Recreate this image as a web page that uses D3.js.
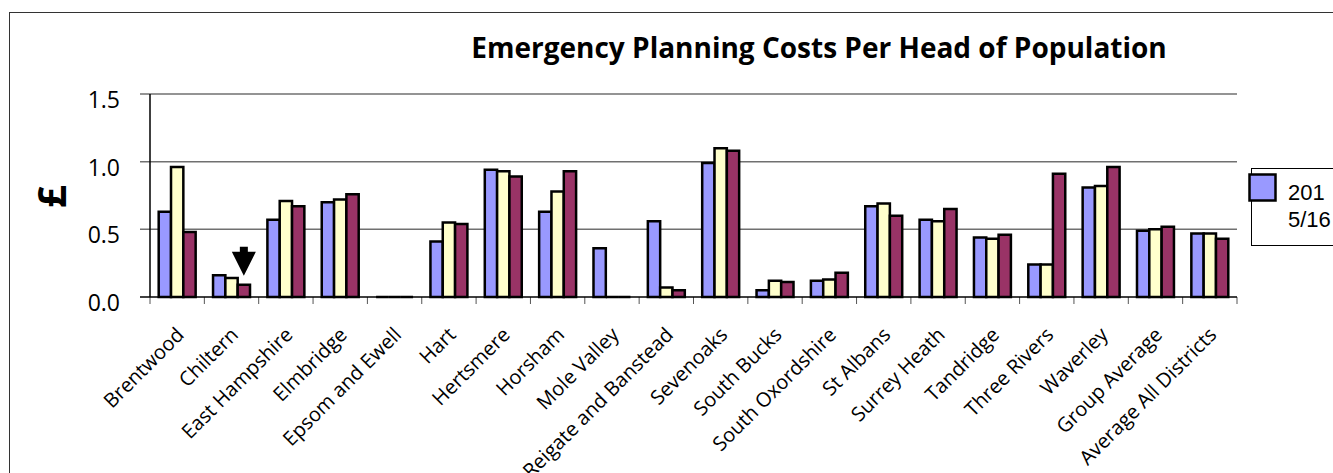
<!DOCTYPE html>
<html>
<head>
<meta charset="utf-8">
<script src="https://cdn.jsdelivr.net/npm/d3@7"></script>
<style>
  body { margin: 0; background: #fff; }
  svg { display: block; }
</style>
</head>
<body>
<div id="chart"></div>
<script>
var districts = ["Brentwood", "Chiltern", "East Hampshire", "Elmbridge", "Epsom and Ewell",
    "Hart", "Hertsmere", "Horsham", "Mole Valley", "Reigate and Banstead", "Sevenoaks",
    "South Bucks", "South Oxordshire", "St Albans", "Surrey Heath", "Tandridge",
    "Three Rivers", "Waverley", "Group Average", "Average All Districts"];

var seriesNames = ["2015/16", "2016/17", "2017/18"];

var costs1516 = [0.63, 0.16, 0.57, 0.70, 0, 0.41, 0.94, 0.63, 0.36, 0.56, 0.99, 0.05, 0.12, 0.67, 0.57, 0.44, 0.24, 0.81, 0.49, 0.47];
var costs1617 = [0.96, 0.14, 0.71, 0.72, 0, 0.55, 0.93, 0.78, 0, 0.07, 1.10, 0.12, 0.13, 0.69, 0.56, 0.43, 0.24, 0.82, 0.50, 0.47];
var costs1718 = [0.48, 0.09, 0.67, 0.76, 0, 0.54, 0.89, 0.93, 0, 0.05, 1.08, 0.11, 0.18, 0.60, 0.65, 0.46, 0.91, 0.96, 0.52, 0.43];

var yTicks = [0, 0.5, 1.0, 1.5];
var colours = ["#9999ff", "#ffffcc", "#993366"];

var width = 1333, height = 473;
var plotLeft = 150, plotRight = 1237, plotTop = 94, plotBottom = 297;

var svg = d3.select("#chart")
    .append("svg")
    .attr("width", width)
    .attr("height", height);

// chart area border (runs off the right and bottom)
svg.append("rect")
    .attr("x", 9.5)
    .attr("y", 12.5)
    .attr("width", 1400)
    .attr("height", 600)
    .attr("fill", "#fff")
    .attr("stroke", "#333")
    .attr("stroke-width", 1);

var x0 = d3.scaleBand()
    .domain(districts)
    .range([plotLeft, plotRight])
    .paddingInner(0.32)
    .paddingOuter(0.16);

var x1 = d3.scaleBand()
    .domain(seriesNames)
    .range([0, x0.bandwidth()]);

var y = d3.scaleLinear()
    .domain([0, 1.5])
    .range([plotBottom, plotTop]);

// gridlines + y ticks
svg.selectAll(".grid")
    .data(yTicks.filter(function(d) { return d > 0 }))
    .enter()
    .append("line")
    .attr("x1", plotLeft - 10)
    .attr("x2", plotRight)
    .attr("y1", function(d) { return y(d) })
    .attr("y2", function(d) { return y(d) })
    .attr("stroke", "#707070")
    .attr("stroke-width", 1.5);

svg.selectAll(".ylab")
    .data(yTicks)
    .enter()
    .append("text")
    .attr("x", 120)
    .attr("y", function(d) { return y(d) + 14 })
    .attr("text-anchor", "end")
    .attr("font-family", "Open Sans")
    .attr("font-size", 23)
    .attr("fill", "#000")
    .text(function(d) { return d3.format(".1f")(d) });

svg.append("text")
    .attr("transform", "translate(66," + (y(0.75) + 1) + ") rotate(-90)")
    .attr("text-anchor", "middle")
    .attr("font-family", "Open Sans")
    .attr("font-weight", "bold")
    .attr("font-size", 40)
    .text("£");

// x ticks at category boundaries
var step = x0.step();
var bounds = d3.range(districts.length + 1).map(function(i) { return plotLeft + i * step });
svg.selectAll(".xtick")
    .data(bounds)
    .enter()
    .append("line")
    .attr("x1", function(d) { return d })
    .attr("x2", function(d) { return d })
    .attr("y1", plotBottom)
    .attr("y2", plotBottom + 7)
    .attr("stroke", "#555")
    .attr("stroke-width", 1);

// bars
var rows = districts.map(function(name, i) {
    return { name: name, values: [costs1516[i], costs1617[i], costs1718[i]] };
});

var groups = svg.selectAll(".group")
    .data(rows)
    .enter()
    .append("g")
    .attr("transform", function(d) { return "translate(" + x0(d.name) + ",0)" });

groups.selectAll("path")
    .data(function(d) {
        return d.values.map(function(v, j) { return { s: seriesNames[j], v: v, j: j } });
    })
    .enter()
    .append("path")
    .attr("d", function(d) {
        var bx = x1(d.s), bw = x1.bandwidth();
        return "M" + bx + "," + y(0) + "V" + y(d.v) + "H" + (bx + bw) + "V" + y(0) + "Z";
    })
    .attr("fill", function(d) { return colours[d.j] })
    .attr("stroke", "#000")
    .attr("stroke-width", 2.5)
    .attr("stroke-linejoin", "miter");

// axis lines
svg.append("line")
    .attr("x1", plotLeft).attr("x2", plotLeft)
    .attr("y1", plotTop).attr("y2", plotBottom)
    .attr("stroke", "#000").attr("stroke-width", 1.5);
svg.append("line")
    .attr("x1", plotLeft - 10).attr("x2", plotRight)
    .attr("y1", plotBottom).attr("y2", plotBottom)
    .attr("stroke", "#000").attr("stroke-width", 1.5);

// category labels
svg.selectAll(".xlab")
    .data(districts)
    .enter()
    .append("text")
    .attr("transform", function(d) {
        return "translate(" + (x0(d) + x0.bandwidth() / 2 + 8) + ",336) rotate(-45)";
    })
    .attr("text-anchor", "end")
    .attr("font-family", "Open Sans")
    .attr("font-size", 20)
    .attr("fill", "#000")
    .text(function(d) { return d });

// arrow over Chiltern 2017/18
var ax = x0("Chiltern") + x1(seriesNames[2]) + x1.bandwidth() / 2;
var tip = y(costs1718[1]) - 9;
svg.append("path")
    .attr("d", "M" + ax + "," + tip +
        "L" + (ax - 12) + "," + (tip - 24) +
        "H" + (ax - 4) + "V" + (tip - 29) +
        "H" + (ax + 4) + "V" + (tip - 24) +
        "H" + (ax + 12) + "Z")
    .attr("fill", "#000");

// title
svg.append("text")
    .attr("x", 819)
    .attr("y", 58)
    .attr("text-anchor", "middle")
    .attr("font-family", "Open Sans")
    .attr("font-weight", "bold")
    .attr("font-size", 28)
    .attr("fill", "#000")
    .text("Emergency Planning Costs Per Head of Population");

// legend (clipped by chart edge, only first entry visible)
svg.append("rect")
    .attr("x", 1251.5)
    .attr("y", 168.5)
    .attr("width", 200)
    .attr("height", 77)
    .attr("fill", "#fff")
    .attr("stroke", "#000")
    .attr("stroke-width", 1);

svg.append("rect")
    .attr("x", 1249.5)
    .attr("y", 174.5)
    .attr("width", 26)
    .attr("height", 26)
    .attr("fill", colours[0])
    .attr("stroke", "#000")
    .attr("stroke-width", 2.5);

var legText = svg.append("text")
    .attr("x", 1288)
    .attr("y", 200)
    .attr("font-family", "Liberation Sans")
    .attr("font-size", 22)
    .attr("fill", "#000");
legText.append("tspan").attr("x", 1288).text(seriesNames[0].slice(0, 3));
legText.append("tspan").attr("x", 1288).attr("dy", 26.5).text(seriesNames[0].slice(3));
</script>
</body>
</html>
